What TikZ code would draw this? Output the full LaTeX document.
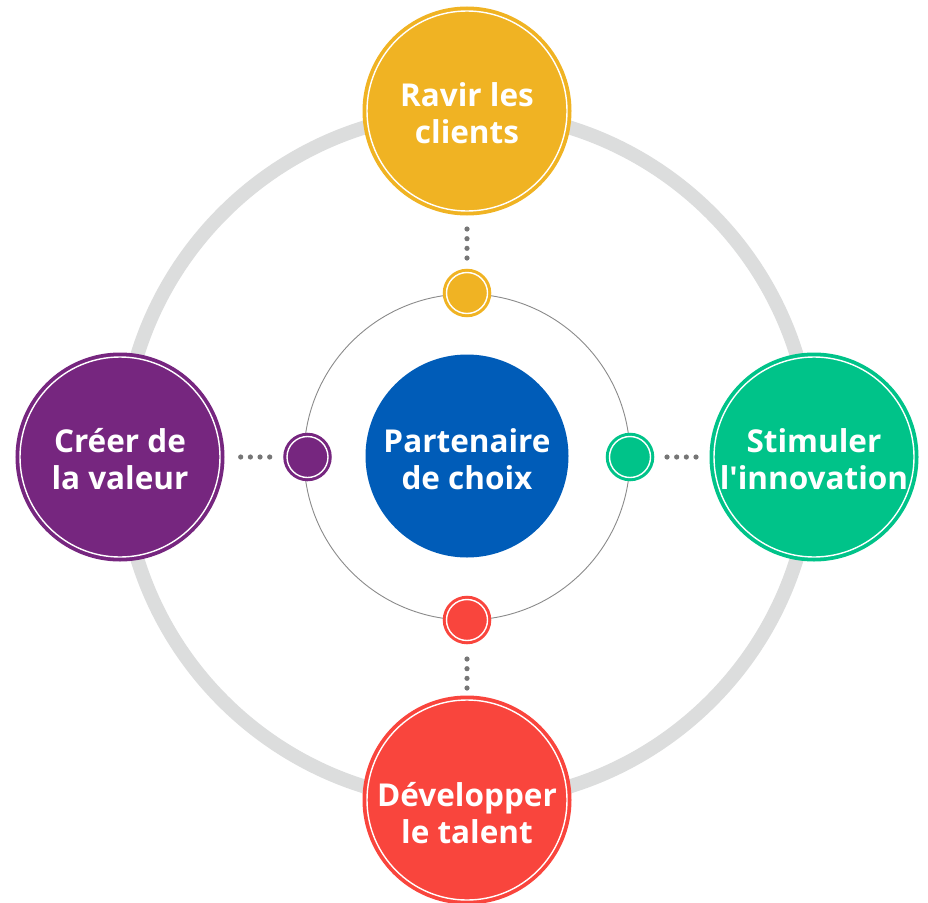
\documentclass[tikz,border=0pt]{standalone}
\usepackage{fontspec}
\setmainfont{Open Sans}[BoldFont={Open Sans Bold}, Ligatures=TeXOff]
\definecolor{cyel}{HTML}{F0B323}
\definecolor{cpur}{HTML}{76267F}
\definecolor{cgrn}{HTML}{00C389}
\definecolor{cred}{HTML}{F9453D}
\definecolor{cblu}{HTML}{005CB8}
\definecolor{cring}{HTML}{DCDDDD}
\definecolor{cdot}{HTML}{767676}
\definecolor{cthin}{HTML}{8A8A8A}
\tikzset{
  bigc/.style={circle, inner sep=0pt, outer sep=0pt, minimum size=200pt,
    fill=#1, draw=white, line width=1.4pt,
    preaction={draw=#1, line width=9pt}},
  smallc/.style={circle, inner sep=0pt, outer sep=0pt, minimum size=41pt,
    fill=#1, draw=white, line width=1.4pt,
    preaction={draw=#1, line width=7.5pt}},
  centc/.style={circle, inner sep=0pt, outer sep=0pt, minimum size=203pt, fill=cblu},
  lbl/.style={text=white, align=center, font=\bfseries\fontsize{31.5}{37.5}\selectfont},
  dotline/.style={draw=cdot, line width=5.2pt, line cap=round, dash pattern=on 0pt off 9.67pt}
}
\begin{document}
\begin{tikzpicture}[x=1pt,y=-1pt]
\useasboundingbox (0,0) rectangle (928,902);
% rings
\draw[cring, line width=14pt] (467,457) circle[radius=345];
\draw[cthin, line width=0.9pt] (467,457) circle[radius=163];
% coordinates
\coordinate (cT) at (467,111);
\coordinate (cL) at (120,457);
\coordinate (cR) at (814,457);
\coordinate (cB) at (467,800);
\coordinate (sT) at (467,293);
\coordinate (sL) at (307.5,457);
\coordinate (sR) at (630,457);
\coordinate (sB) at (467,620);
% dotted connectors
\draw[dotline, shorten <=118pt, shorten >=34pt] (cT) -- (sT);
\draw[dotline, shorten <=120.7pt, shorten >=36.8pt] (cL) -- (sL);
\draw[dotline, shorten <=37pt, shorten >=117pt] (sR) -- (cR);
\draw[dotline, shorten <=39pt, shorten >=111pt] (sB) -- (cB);
% small circles
\node[smallc=cyel] (smT) at (sT) {};
\node[smallc=cpur] (smL) at (sL) {};
\node[smallc=cgrn] (smR) at (sR) {};
\node[smallc=cred] (smB) at (sB) {};
% big circles
\node[bigc=cyel] (ravir) at (cT) {};
\node[bigc=cpur] (creer) at (cL) {};
\node[bigc=cgrn] (stim) at (cR) {};
\node[bigc=cred] (dev) at (cB) {};
\node[centc] (part) at (467,456) {};
% labels
\node[lbl] (tRavir) at ([yshift=-2pt]ravir.center) {Ravir les\\clients};
\node[lbl] (tCreer) at ([yshift=-2pt]creer.center) {Créer de\\la valeur};
\node[lbl] (tStim) at ([yshift=-2pt]stim.center) {Stimuler\\l'innovation};
\node[lbl] (tDev) at ([yshift=-13pt]dev.center) {Développer\\le talent};
\node[lbl] (tPart) at ([yshift=-3pt]part.center) {Partenaire\\de choix};
\end{tikzpicture}
\end{document}
